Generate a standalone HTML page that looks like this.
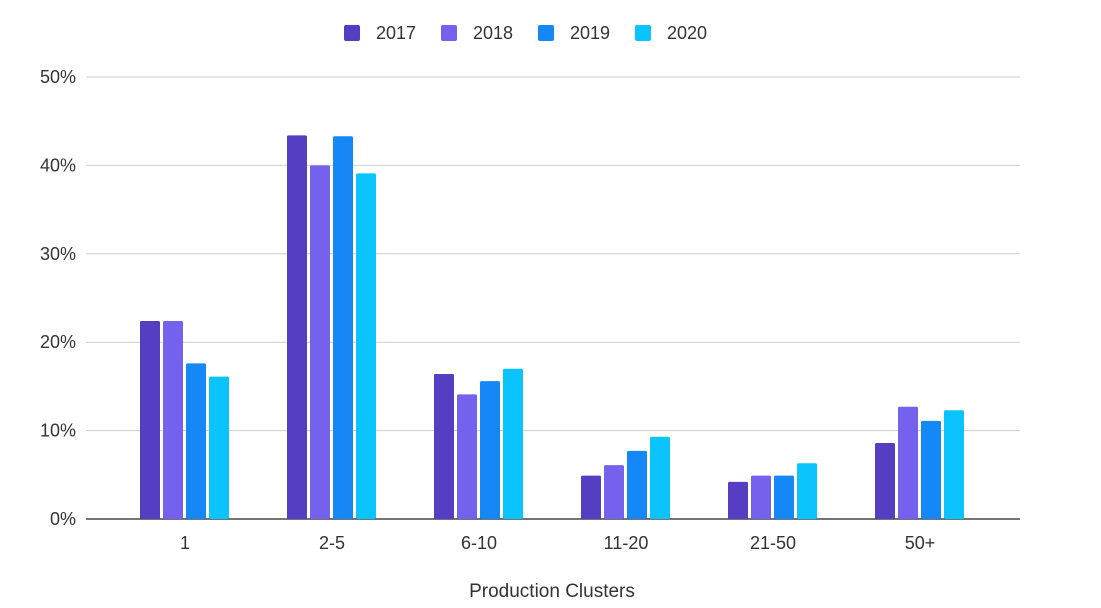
<!DOCTYPE html>
<html><head><meta charset="utf-8">
<style>
body{margin:0;background:#fff;font-family:"Liberation Sans",sans-serif;}
svg text{font-family:"Liberation Sans",sans-serif;fill:#333;}
</style></head>
<body>
<svg id="chart" width="1101" height="603">
<g id="grid"></g><g id="bars"></g><g id="labels"></g><g id="legend"></g>
<text x="552" y="597" text-anchor="middle" font-size="19">Production Clusters</text>
</svg>
<script>
const categories=["1","2-5","6-10","11-20","21-50","50+"];
const series=["2017","2018","2019","2020"];
const v2017=[22.4,43.4,16.4,4.9,4.2,8.6];
const v2018=[22.4,40.0,14.1,6.1,4.9,12.7];
const v2019=[17.6,43.3,15.6,7.7,4.9,11.1];
const v2020=[16.1,39.1,17.0,9.3,6.3,12.3];
const yTicks=[0,10,20,30,40,50];
const tickLabels=["0%","10%","20%","30%","40%","50%"];
const values=[v2017,v2018,v2019,v2020];
const colors=["#553ec1","#7462ef","#1587f6","#0cc4fd"];
const NS="http://www.w3.org/2000/svg";
const y0=519,pxPer=8.84,x0=86,x1=1020;
const y=v=>y0-v*pxPer;
const xc=i=>185+i*147;
function mk(t,a,p){const e=document.createElementNS(NS,t);for(const k in a)e.setAttribute(k,a[k]);p.appendChild(e);return e;}
const grid=document.getElementById('grid');
yTicks.forEach((t,i)=>{
  const l=mk('line',{x1:x0,x2:x1,y1:y(t),y2:y(t),stroke:i==0?'#222':'#ccc','stroke-width':i==0?1.3:1},grid);
  
  
  const tx=mk('text',{x:76,y:y(t)+6,'text-anchor':'end','font-size':18},grid);
  tx.textContent=tickLabels[i];
  
  
});
const bars=document.getElementById('bars');
categories.forEach((c,i)=>{
  values.forEach((arr,s)=>{
    const bx=xc(i)-45+s*23;
    const r=mk('rect',{x:bx,y:y(arr[i]),width:20,height:arr[i]*pxPer,fill:colors[s],rx:1.5},bars);
    
    
  });
  const t=mk('text',{x:xc(i),y:549,'text-anchor':'middle','font-size':18},document.getElementById('labels'));
  t.textContent=c;
  
  
});
const lg=document.getElementById('legend');
series.forEach((s,i)=>{
  const lx=344+i*97;
  const g=mk('g',{},lg);
  
  
  mk('rect',{x:lx,y:25,width:16,height:16,fill:colors[i],rx:2},g);
  const t=mk('text',{x:lx+32,y:39,'font-size':18},g);
  t.textContent=s;
});
</script>
</body></html>
